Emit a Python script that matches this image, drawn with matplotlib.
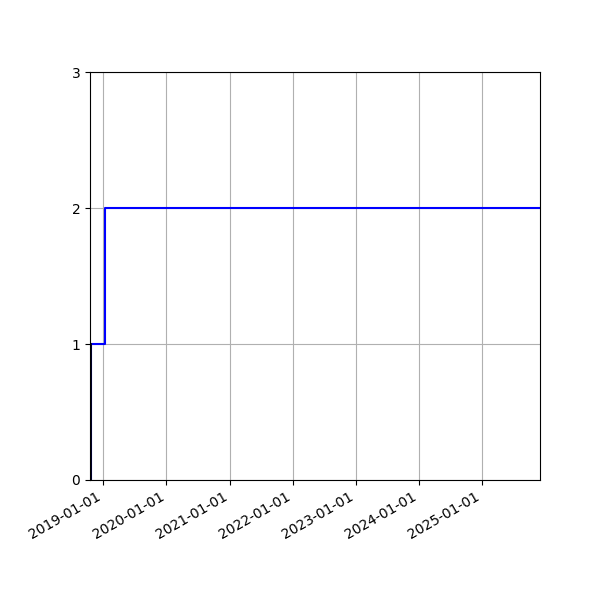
import matplotlib
matplotlib.use("Agg")
import matplotlib.pyplot as plt
import matplotlib.dates as mdates
from datetime import datetime

step_dates = [datetime(2018, 10, 20), datetime(2019, 1, 12), datetime(2025, 12, 2)]
step_values = [1, 2, 2]
start_date = datetime(2018, 10, 20)
black_dates = [datetime(2018, 10, 24), datetime(2018, 10, 24)]
black_values = [0, 1]
xlim_dates = [datetime(2018, 10, 16), datetime(2025, 12, 2)]
tick_dates = [datetime(y, 1, 1) for y in range(2019, 2026)]

fig = plt.figure(figsize=(6, 6), dpi=100)
ax = fig.add_subplot(111)

ax.step([start_date] + step_dates, [0] + step_values, where="post", color="blue", lw=1.5)
ax.plot(black_dates, black_values, color="black", lw=1.2)

ax.set_xlim(xlim_dates)
ax.set_ylim(0, 3)
ax.set_yticks([0, 1, 2, 3])
ax.set_xticks(tick_dates)
ax.xaxis.set_major_formatter(mdates.DateFormatter("%Y-%m-%d"))
ax.grid(True)
fig.autofmt_xdate()
fig.subplots_adjust(left=0.15, right=0.9, top=0.88, bottom=0.2)
fig.savefig("out.png", dpi=100)
